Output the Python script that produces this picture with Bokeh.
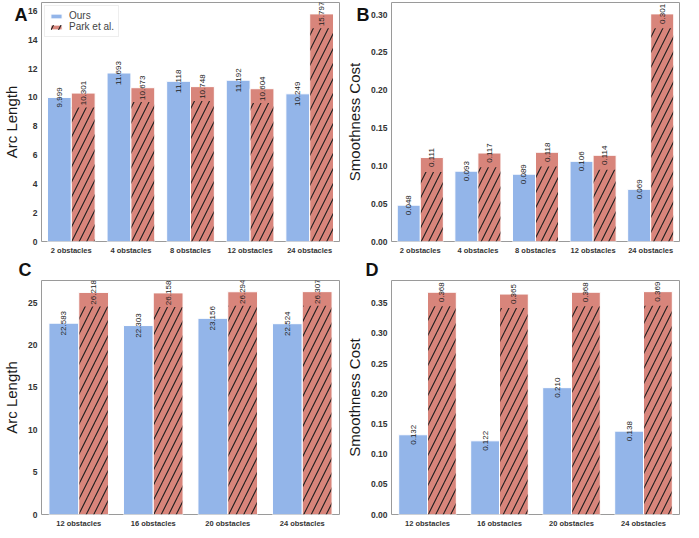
import math
from bokeh.plotting import figure
from bokeh.models import (Range1d, FactorRange, ColumnDataSource, Legend,
                          LegendItem, FixedTicker, NumeralTickFormatter, Title)
from bokeh.transform import dodge
from bokeh.layouts import gridplot
from bokeh.core.properties import value
from bokeh.embed import file_html
from bokeh.resources import INLINE

# ---------------- data ----------------
cats_top = ["2 obstacles", "4 obstacles", "8 obstacles", "12 obstacles", "24 obstacles"]
ours_arc_top = [9.999, 11.693, 11.118, 11.192, 10.249]
park_arc_top = [10.301, 10.673, 10.748, 10.604, 15.797]
ours_smooth_top = [0.048, 0.093, 0.089, 0.106, 0.069]
park_smooth_top = [0.111, 0.117, 0.118, 0.114, 0.301]

cats_bot = ["12 obstacles", "16 obstacles", "20 obstacles", "24 obstacles"]
ours_arc_bot = [22.583, 22.303, 23.156, 22.524]
park_arc_bot = [26.218, 26.158, 26.294, 26.307]
ours_smooth_bot = [0.132, 0.122, 0.210, 0.138]
park_smooth_bot = [0.368, 0.365, 0.368, 0.369]

ticks_arc_top = [0, 2, 4, 6, 8, 10, 12, 14, 16]
ticks_smooth_top = [0.0, 0.05, 0.10, 0.15, 0.20, 0.25, 0.30]
ticks_arc_bot = [0, 5, 10, 15, 20, 25]
ticks_smooth_bot = [0.0, 0.05, 0.10, 0.15, 0.20, 0.25, 0.30, 0.35]

series_names = ["Ours", "Park et al."]
panel_letters = ["A", "B", "C", "D"]

BLUE = "#93b5e9"
RED = "#d8857b"
FONT = "Liberation Sans"


def panel(cats, ours, park, ylabel, ticks, tick_fmt, letter, w, h,
          bl, br, bt, bb, l_offset, l_standoff, legend=False):
    ymax = max(max(ours), max(park)) * 1.05
    p = figure(width=w, height=h, x_range=FactorRange(*cats),
               y_range=Range1d(0, ymax), output_backend="svg",
               toolbar_location=None, min_border_left=bl, min_border_right=br,
               min_border_top=bt, min_border_bottom=bb)
    src = ColumnDataSource(dict(
        cat=cats, ours=ours, park=park,
        park_h=[v - 0.06 * ymax for v in park],
        ol=[f"{v:.3f}" for v in ours], pl=[f"{v:.3f}" for v in park]))
    xo = dodge("cat", -0.2, range=p.x_range)
    xp = dodge("cat", 0.2, range=p.x_range)
    r1 = p.vbar(x=xo, top="ours", width=0.4, source=src, fill_color=BLUE,
                line_color="white", line_width=1)
    r2 = p.vbar(x=xp, top="park", width=0.4, source=src, fill_color=RED,
                line_color="white", line_width=1)
    r3 = p.vbar(x=xp, top="park_h", width=0.38, source=src, fill_alpha=0,
                line_color=None, hatch_pattern="/", hatch_color="#1e1e1e",
                hatch_scale=15, hatch_weight=1.1)
    for x, col in ((xo, "ol"), (xp, "pl")):
        p.text(x=x, y="ours" if col == "ol" else "park", text=col, source=src,
               angle=math.pi / 2, text_align="center", text_baseline="middle",
               text_font_size="8px", text_color="#222222", text_font=value(FONT))

    p.xgrid.grid_line_color = None
    p.ygrid.grid_line_color = None
    p.outline_line_color = "#9a9a9a"
    p.outline_line_width = 1
    for ax in (p.xaxis[0], p.yaxis[0]):
        ax.axis_line_color = None
        ax.major_tick_line_color = None
        ax.minor_tick_line_color = None
        ax.major_tick_out = 0
        ax.major_tick_in = 0
        ax.minor_tick_out = 0
        ax.minor_tick_in = 0
        ax.major_label_text_font_style = "bold"
        ax.major_label_text_color = "#333333"
        ax.major_label_text_font = FONT
        ax.major_label_standoff = 4
    p.xaxis.major_label_text_font_size = "7.5px"
    p.yaxis.major_label_text_font_size = "8.5px"
    p.yaxis.ticker = FixedTicker(ticks=ticks)
    p.yaxis.formatter = NumeralTickFormatter(format=tick_fmt)
    p.yaxis.axis_label = ylabel
    p.yaxis.axis_label_text_font = FONT
    p.yaxis.axis_label_text_font_style = "normal"
    p.yaxis.axis_label_text_font_size = "15px"
    p.yaxis.axis_label_text_color = "#1a1a1a"
    p.yaxis.axis_label_standoff = 5

    t = Title(text=letter, align="left", offset=l_offset, standoff=l_standoff)
    t.text_font = FONT
    t.text_font_style = "bold"
    t.text_font_size = "18px"
    t.text_color = "#111111"
    p.add_layout(t, "above")

    if legend:
        lg = Legend(items=[LegendItem(label=series_names[0], renderers=[r1]),
                           LegendItem(label=series_names[1], renderers=[r2, r3])],
                    location="top_left")
        lg.label_text_font = FONT
        lg.label_text_font_size = "10px"
        lg.label_text_color = "#444444"
        lg.glyph_width = 14
        lg.glyph_height = 6
        lg.label_height = 8
        lg.label_standoff = 6
        lg.padding = 4
        lg.spacing = 0
        lg.margin = 3
        lg.border_line_color = "#dddddd"
        lg.background_fill_alpha = 1
        p.add_layout(lg)
    return p


pA = panel(cats_top, ours_arc_top, park_arc_top, "Arc Length", ticks_arc_top,
           "0", panel_letters[0], 342, 257, 26, 3, 2, 14, -27, -44, legend=True)
pB = panel(cats_top, ours_smooth_top, park_smooth_top, "Smoothness Cost",
           ticks_smooth_top, "0.00", panel_letters[1], 341, 257, 36, 4, 2, 14, -35, -44)
pC = panel(cats_bot, ours_arc_bot, park_arc_bot, "Arc Length", ticks_arc_bot,
           "0", panel_letters[2], 342, 273, 26, 3, 0, 12, -23, 1)
pD = panel(cats_bot, ours_smooth_bot, park_smooth_bot, "Smoothness Cost",
           ticks_smooth_bot, "0.00", panel_letters[3], 341, 273, 36, 4, 0, 12, -26, 1)

grid = gridplot([[pA, pB], [pC, pD]], toolbar_location=None)
open("out.html", "w").write(file_html(grid, INLINE))
